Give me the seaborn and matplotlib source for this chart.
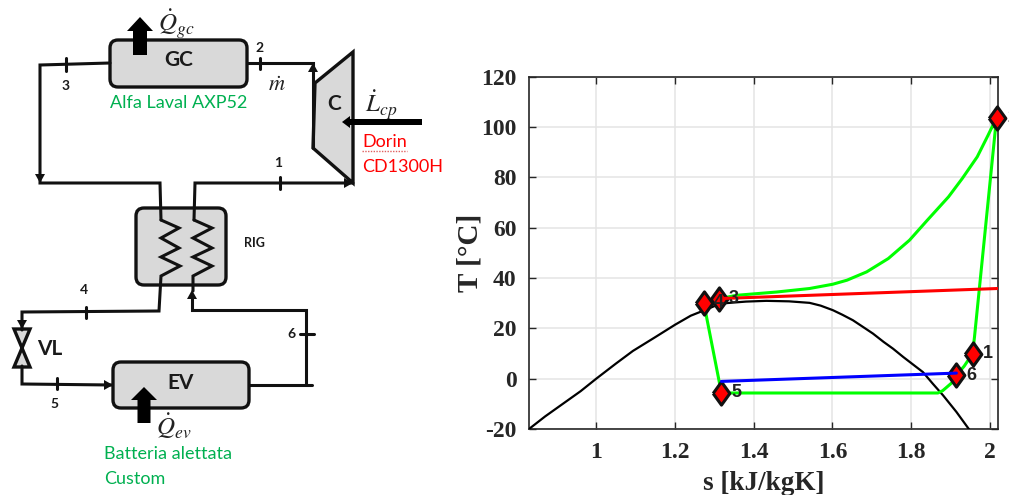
import matplotlib
matplotlib.use("Agg")
import matplotlib.pyplot as plt
import pandas as pd
import seaborn as sns
from matplotlib.patches import FancyBboxPatch, Polygon, FancyArrow

sns.set_theme(style="whitegrid")
plt.rcParams["mathtext.fontset"] = "stix"

# --------------------------------------------------------------------------------
# T-s diagram data
# --------------------------------------------------------------------------------

point_names = ["1", "2", "3", "4", "5", "6"]
point_s = [1.956, 2.017, 1.311, 1.273, 1.318, 1.915]
point_T = [9.9, 103.6, 31.7, 30.2, -5.7, 1.3]

sat_s = [0.829, 0.87, 0.915, 0.96, 1.0, 1.05, 1.093, 1.15, 1.2, 1.24, 1.272, 1.30, 1.331, 1.38, 1.432, 1.49, 1.542, 1.57, 1.601, 1.625, 1.652, 1.68, 1.703, 1.73, 1.754, 1.78, 1.83, 1.855, 1.881, 1.915, 1.948]
sat_T = [-20, -15, -10, -5, 0, 6, 11, 16.5, 21.4, 25, 27, 28.8, 30, 30.6, 30.9, 30.7, 30.1, 29, 27.2, 25.4, 23.2, 20.3, 17.9, 14.6, 11.9, 8.6, 2.6, -2, -6.6, -13.2, -20.3]

cycle_s = [1.956, 1.961, 2.017, 1.995, 1.968, 1.93, 1.895, 1.841, 1.796, 1.742, 1.687, 1.637, 1.601, 1.542, 1.458, 1.356, 1.311, 1.273, 1.318, 1.50, 1.70, 1.868, 1.88, 1.889, 1.906, 1.915, 1.935, 1.956]
cycle_T = [9.9, 16.5, 103.6, 96.5, 88.1, 79.5, 72.2, 62.9, 55, 47.7, 42.4, 39.1, 37.5, 35.8, 34.4, 33.1, 31.7, 30.2, -5.7, -5.7, -5.7, -5.7, -4.8, -3.6, -1.3, 1.3, 5, 9.9]

red_s = [1.314, 2.02]
red_T = [31.8, 35.8]
blue_s = [1.318, 1.915]
blue_T = [-1.1, 2.2]

x_ticks = [1, 1.2, 1.4, 1.6, 1.8, 2]
x_labels = ["1", "1.2", "1.4", "1.6", "1.8", "2"]
y_ticks = [-20, 0, 20, 40, 60, 80, 100, 120]
y_labels = ["-20", "0", "20", "40", "60", "80", "100", "120"]

# --------------------------------------------------------------------------------
# Schematic data (pixel coordinates of the sketch)
# --------------------------------------------------------------------------------

pipes = [
    [(110, 63), (40, 65), (40, 183), (160, 183), (161, 220)],
    [(353, 183), (195, 183), (194, 220)],
    [(247, 63), (313, 63), (313, 148)],
    [(161, 220), (179, 228), (161, 238), (179, 248), (161, 257), (180, 266), (161, 276), (159, 311), (22, 312), (22, 330)],
    [(194, 220), (212, 228), (193, 238), (212, 248), (193, 257), (212, 266), (193, 276), (193, 291)],
    [(192, 295), (192, 310), (306, 310), (306, 385)],
    [(249, 385), (312, 385)],
    [(22, 366), (22, 384), (112, 385)],
]
ticks = [
    [(66, 58), (66, 71)], [(260, 58), (260, 69)], [(280, 177), (280, 189)],
    [(86, 307), (86, 318)], [(57, 378), (57, 389)], [(300, 334), (314, 334)],
]
arrow_tips = [(40, 183, 0, 1), (313, 63, 0, -1), (353, 183, 1, 0), (22, 329, 0, 1), (192, 290, 0, -1), (113, 385, 1, 0)]
labels = [("3", 66, 86, 10), ("2", 260, 48, 10), ("1", 278, 163, 10), ("4", 84, 290, 10), ("5", 54, 404, 10), ("6", 291, 334, 10),
          ("GC", 179, 60, 15), ("C", 334, 104, 15), ("RIG", 254, 243, 9), ("VL", 50, 349, 15), ("EV", 181, 383, 15)]

fig = plt.figure(figsize = (10.09, 4.95), dpi = 100)

# --------------------------------------------------------------------------------
# Left : Schematic
# --------------------------------------------------------------------------------

sk = fig.add_axes([0, 0, 1, 1])
sk.set_xlim(0, 1009)
sk.set_ylim(495, 0)
sk.axis("off")

Box_Color = "#d9d9d9"
Line_Color = "#111111"

for x, y, w, h in [(110, 40, 137, 47), (136, 208, 90, 77), (113, 362, 136, 46)]:
    sk.add_patch(FancyBboxPatch((x + 8, y + 8), w - 16, h - 16, boxstyle = "round,pad=8,rounding_size=8",
                                fc = Box_Color, ec = Line_Color, lw = 2.4, zorder = 2))

sk.add_patch(Polygon([(315, 83), (353, 52), (353, 183), (313, 148)], closed = True, fc = Box_Color, ec = Line_Color, lw = 2.4, zorder = 2))
sk.add_patch(Polygon([(14, 329), (30, 329), (14, 367), (30, 367)], closed = True, fc = Box_Color, ec = Line_Color, lw = 2.4, zorder = 2))

for pipe in pipes:
    sk.plot([p[0] for p in pipe], [p[1] for p in pipe], color = Line_Color, lw = 2.2, solid_joinstyle = "miter", zorder = 3)

for tick in ticks:
    sk.plot([p[0] for p in tick], [p[1] for p in tick], color = Line_Color, lw = 2.2, zorder = 3)

for x, y, dx, dy in arrow_tips:
    sk.add_patch(Polygon([(x, y), (x - 9 * dx - 5 * dy, y - 9 * dy - 5 * dx), (x - 9 * dx + 5 * dy, y - 9 * dy + 5 * dx)],
                         closed = True, fc = Line_Color, ec = "none", zorder = 4))

# heat and work arrows
sk.add_patch(FancyArrow(140, 55, 0, -38, width = 14, head_width = 26, head_length = 14, length_includes_head = True, fc = "black", ec = "none", zorder = 5))
sk.add_patch(FancyArrow(144, 423, 0, -36, width = 13, head_width = 26, head_length = 13, length_includes_head = True, fc = "black", ec = "none", zorder = 5))
sk.add_patch(FancyArrow(422, 122, -80, 0, width = 6, head_width = 12, head_length = 8, length_includes_head = True, fc = "black", ec = "none", zorder = 5))

for text, x, y, size in labels:
    sk.text(x, y, text, fontsize = size, fontweight = "bold", family = "Lato", color = "#1a1a1a", ha = "center", va = "center", zorder = 6)

sk.text(176, 24, r"$\dot{Q}_{gc}$", fontsize = 18, color = "#222222", ha = "center", va = "center")
sk.text(174, 426, r"$\dot{Q}_{ev}$", fontsize = 18, color = "#222222", ha = "center", va = "center")
sk.text(277, 85, r"$\dot{m}$", fontsize = 16, color = "#222222", ha = "center", va = "center")
sk.text(381, 105, r"$\dot{L}_{cp}$", fontsize = 18, color = "#222222", ha = "center", va = "center")

sk.text(110, 103, "Alfa Laval AXP52", fontsize = 13, family = "Lato", color = "#00b050", va = "center")
sk.text(104, 454, "Batteria alettata", fontsize = 13, family = "Lato", color = "#00b050", va = "center")
sk.text(104, 479, "Custom", fontsize = 13, family = "Lato", color = "#00b050", va = "center")
sk.text(362, 142, "Dorin", fontsize = 13, family = "Lato", color = "#ff0000", va = "center")
sk.text(362, 167, "CD1300H", fontsize = 13, family = "Lato", color = "#ff0000", va = "center")
sk.plot([362, 407], [151, 151], color = "#e06060", lw = 1, ls = (0, (1, 1)))

# --------------------------------------------------------------------------------
# Right : T-s diagram
# --------------------------------------------------------------------------------

ax = fig.add_axes([529 / 1009, 1 - 429 / 495, (997.7 - 529) / 1009, (429 - 76.5) / 495])
ax.set_xlim(0.829, 2.02)
ax.set_ylim(-20, 120)

df_sat = pd.DataFrame({"s": sat_s, "T": sat_T})
df_cycle = pd.DataFrame({"s": cycle_s, "T": cycle_T})
df_red = pd.DataFrame({"s": red_s, "T": red_T})
df_blue = pd.DataFrame({"s": blue_s, "T": blue_T})
df_points = pd.DataFrame({"name": point_names, "s": point_s, "T": point_T})

sns.lineplot(data = df_sat, x = "s", y = "T", sort = False, estimator = None, color = "black", lw = 1.6, ax = ax, zorder = 3)
sns.lineplot(data = df_cycle, x = "s", y = "T", sort = False, estimator = None, color = "#00ff00", lw = 2.2, ax = ax, zorder = 4)

Diamond = [(-0.72, 0), (0, 1), (0.72, 0), (0, -1), (-0.72, 0)]
sns.scatterplot(data = df_points, x = "s", y = "T", marker = Diamond, s = 280, color = "#ff0000", edgecolor = "#111111", linewidth = 2.2, ax = ax, zorder = 5, clip_on = False)

sns.lineplot(data = df_red, x = "s", y = "T", sort = False, estimator = None, color = "#ff0000", lw = 2.2, ax = ax, zorder = 6)
sns.lineplot(data = df_blue, x = "s", y = "T", sort = False, estimator = None, color = "#0000ff", lw = 2.2, ax = ax, zorder = 6)

for name, s, T in zip(point_names, point_s, point_T):
    ax.annotate(name, (s, T), xytext = (7.5, 0), textcoords = "offset points", fontsize = 13, fontweight = "bold",
                family = "Liberation Sans", color = "#222222", va = "center", zorder = 7, annotation_clip = False)

ax.set_xticks(x_ticks)
ax.set_xticklabels(x_labels)
ax.set_yticks(y_ticks)
ax.set_yticklabels(y_labels)
ax.tick_params(axis = "both", direction = "in", length = 5, width = 1, color = "#262626", top = True, right = True, bottom = True, left = True, labelsize = 17, labelcolor = "#262626", pad = 9)
for lab in ax.get_xticklabels() + ax.get_yticklabels():
    lab.set_family("Liberation Serif")
    lab.set_fontweight("bold")

ax.grid(True, color = "#e4e4e4", lw = 1.1)
ax.set_axisbelow(True)
for spine in ax.spines.values():
    spine.set_color("#262626")
    spine.set_linewidth(1.2)

ax.set_xlabel("s [kJ/kgK]", fontsize = 19.5, fontweight = "bold", family = "Liberation Serif", color = "#262626", labelpad = 6)
ax.set_ylabel("T [°C]", fontsize = 21, fontweight = "bold", family = "Liberation Serif", color = "#262626", labelpad = -2)

fig.savefig("out.png", dpi = 100)
